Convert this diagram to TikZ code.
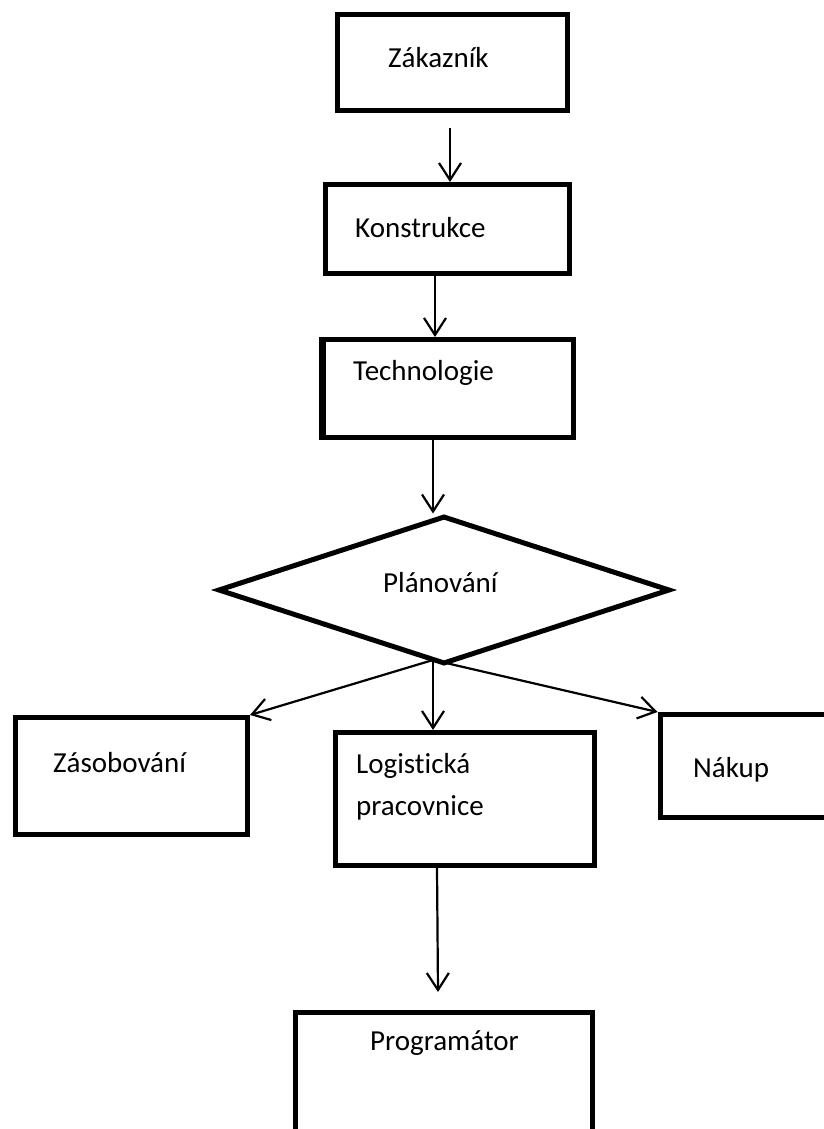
\documentclass[tikz,border=0pt]{standalone}
\usepackage{fontspec}
\setmainfont{Carlito}[Ligatures=NoCommon]
\usetikzlibrary{arrows.meta,shapes.geometric}

\tikzset{
  box/.style={draw=black, line width=5pt, rectangle, inner sep=0pt},
  decision/.style={draw=black, line width=5pt, diamond, inner sep=0pt},
  txt/.style={anchor=base west, inner sep=0pt, font=\fontsize{29pt}{42pt}\selectfont},
  arr/.style={draw=black, line width=2.2pt,
    -{Straight Barb[length=17pt, width=22pt, line width=2.2pt]}},
}

\begin{document}
\begin{tikzpicture}[x=1pt, y=-1pt]
  \clip (0,0) rectangle (824,1129);
  \fill[white] (0,0) rectangle (824,1129);

  % process boxes
  \node[box, minimum width=230pt, minimum height=96pt]  (zak)  at (452.5,62.5) {};
  \node[box, minimum width=244pt, minimum height=89pt]  (kon)  at (447.5,229)  {};
  \node[box, minimum width=250pt, minimum height=98pt]  (tech) at (448.5,388.5) {};
  \node[box, minimum width=232pt, minimum height=117pt] (zas)  at (131.5,776)  {};
  \node[box, minimum width=259pt, minimum height=133pt] (log)  at (465,799)    {};
  \node[box, minimum width=190pt, minimum height=103pt] (nak)  at (755,766)    {};
  \node[box, minimum width=297pt, minimum height=150pt] (prog) at (444,1087)   {};

  % heavier left edge of the technology box
  \draw[line width=7pt] ([xshift=1pt]tech.north west) -- ([xshift=1pt]tech.south west);

  % decision
  \node[decision, minimum width=452pt, minimum height=148pt] (plan) at (444,590) {};

  % labels
  \node[txt] (tzak)  at (388,68)   {Zákazník};
  \node[txt] (tkon)  at (355,237)  {Konstrukce};
  \node[txt] (ttech) at (353,380)  {Technologie};
  \node[txt] (tplan) at (383,592)  {Plánování};
  \node[txt] (tzas)  at (53,772)   {Zásobování};
  \node[txt] (tlog1) at (356,773)  {Logistická};
  \node[txt] (tlog2) at (356,815)  {pracovnice};
  \node[txt] (tnak)  at (693,777)  {Nákup};
  \node[txt] (tprog) at (370,1050) {Programátor};

  % connector ends
  \coordinate (a1s) at (450,128);
  \coordinate (a2x) at (435,0);
  \coordinate (a3x) at (433,0);
  \coordinate (fork) at (433,660);
  \coordinate (a5s) at (437,0);
  \coordinate (a5e) at (438,992);

  % connectors
  \draw[arr] (a1s) -- (a1s |- kon.north);
  \draw[arr] (kon.south -| a2x) -- (tech.north -| a2x);
  \draw[arr] (tech.south -| a3x) -- (plan.north -| a3x);
  \draw[arr] (fork) -- (zas.north east);
  \draw[arr] (fork) -- (log.north -| fork);
  \draw[arr] (fork) -- (nak.north west);
  \draw[arr] (log.south -| a5s) -- (a5e);
\end{tikzpicture}
\end{document}
